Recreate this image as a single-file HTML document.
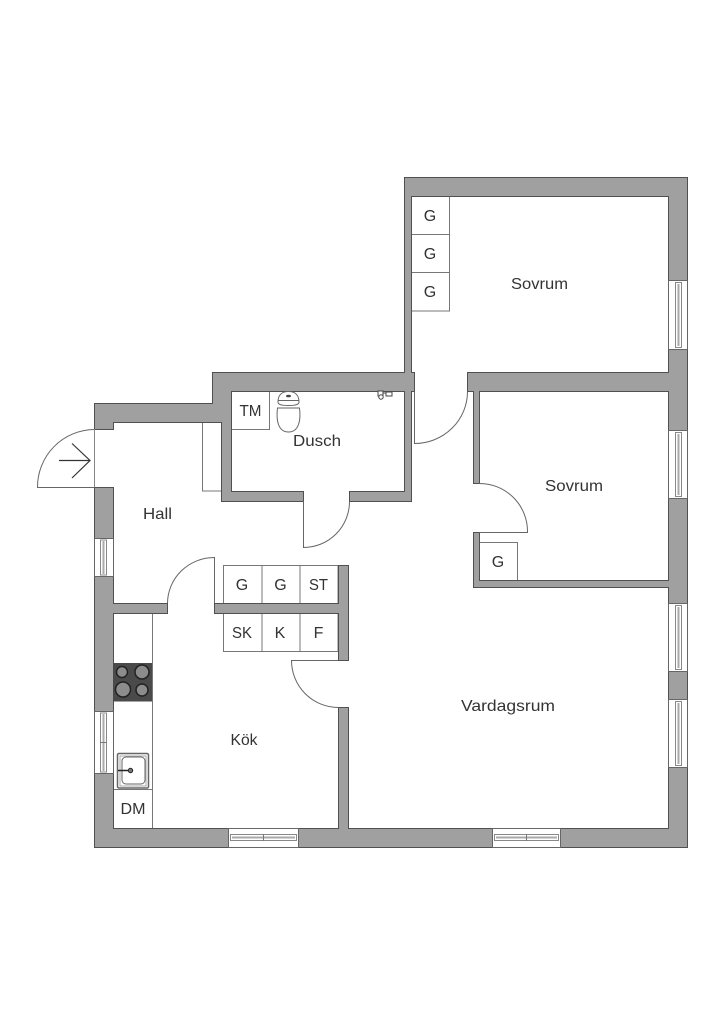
<!DOCTYPE html>
<html>
<head>
<meta charset="utf-8">
<style>
html,body{margin:0;padding:0;background:#fff;}
svg{display:block;}
text{font-family:"Liberation Sans",sans-serif;font-size:16px;fill:#333;text-anchor:middle;font-weight:normal;}
.w{fill:#a0a0a0;stroke:#505050;stroke-width:1;}
.c{fill:#fff;stroke:#777;stroke-width:1;}
.d{fill:none;stroke:#666;stroke-width:1;}
.win{fill:#fff;stroke:#666;stroke-width:1;}
.f{fill:#fff;stroke:#888;stroke-width:1;}
</style>
</head>
<body>
<svg width="724" height="1024" viewBox="0 0 724 1024" xmlns="http://www.w3.org/2000/svg">
<rect width="724" height="1024" fill="#fff"/>

<!-- hall closet and built-ins -->
<rect class="c" x="202.500" y="422.500" width="19" height="68.500"/>
<rect class="c" x="231.500" y="391.500" width="38" height="38"/>
<rect class="c" x="411.500" y="196.500" width="38" height="38"/>
<rect class="c" x="411.500" y="234.500" width="38" height="38"/>
<rect class="c" x="411.500" y="272.500" width="38" height="38.500"/>
<rect class="c" x="479.500" y="542.500" width="38" height="38"/>
<rect class="c" x="223.500" y="565.500" width="38.500" height="38"/>
<rect class="c" x="262" y="565.500" width="38" height="38"/>
<rect class="c" x="300" y="565.500" width="38" height="38"/>
<rect class="c" x="223.500" y="613.500" width="38.500" height="38"/>
<rect class="c" x="262" y="613.500" width="38" height="38"/>
<rect class="c" x="300" y="613.500" width="38" height="38"/>
<path class="c" d="M152.500 613V828" fill="none"/>
<path class="c" d="M113 789.500H152" fill="none"/>

<!-- walls -->
<path class="w" d="M94.500 487.500V847.500H687.500V177.500H404.500V372.500H212.500V403.500H94.500V429.500H113.500V422.500H221.500V501.500H303.500V491.500H231.500V391.500H404.500V491.500H349.500V501.500H411.500V391.500H414.500V372.500H411.500V196.500H668.500V372.500H467.500V391.500H473.500V483.500H479.500V391.500H668.500V580.500H479.500V532.500H473.500V587.500H668.500V828.500H348.500V707.500H338.500V828.500H113.500V613.500H167.500V603.500H113.500V487.500Z"/>
<path class="w" d="M214.500 603.500H338.500V565.500H348.500V660.500H338.500V613.500H214.500Z"/>

<!-- windows right -->
<g>
<rect class="win" x="668.500" y="280.500" width="19" height="69"/>
<rect class="f" x="675.500" y="282.500" width="6" height="65"/>
<rect x="677.500" y="284" width="2" height="62" fill="#aaa"/>
<rect class="win" x="668.500" y="430.500" width="19" height="68"/>
<rect class="f" x="675.500" y="432.500" width="6" height="64"/>
<rect x="677.500" y="434" width="2" height="61" fill="#aaa"/>
<rect class="win" x="668.500" y="603.500" width="19" height="68"/>
<rect class="f" x="675.500" y="605.500" width="6" height="64"/>
<rect x="677.500" y="607" width="2" height="61" fill="#aaa"/>
<rect class="win" x="668.500" y="699.500" width="19" height="68"/>
<rect class="f" x="675.500" y="701.500" width="6" height="64"/>
<rect x="677.500" y="703" width="2" height="61" fill="#aaa"/>
</g>
<!-- windows left -->
<rect class="win" x="94.500" y="538.500" width="19" height="38"/>
<rect class="f" x="100.500" y="540" width="6" height="35"/>
<rect x="102.500" y="541" width="2" height="33" fill="#aaa"/>
<rect class="win" x="94.500" y="711.500" width="19" height="62"/>
<rect class="f" x="100.500" y="713" width="6" height="59"/>
<rect x="102.500" y="714" width="2" height="57" fill="#aaa"/>
<path d="M100 742.500H107" stroke="#777"/>
<!-- windows bottom -->
<rect class="win" x="228.500" y="828.500" width="70" height="19"/>
<rect class="f" x="230.500" y="834.500" width="66" height="6"/>
<rect x="232" y="836.500" width="63" height="2" fill="#aaa"/>
<path d="M263.500 834V841" stroke="#777"/>
<rect class="win" x="492.500" y="828.500" width="68" height="19"/>
<rect class="f" x="494.500" y="834.500" width="64" height="6"/>
<rect x="496" y="836.500" width="61" height="2" fill="#aaa"/>
<path d="M526.500 834V841" stroke="#777"/>

<!-- doors -->
<path class="d" d="M94.500 429.500A57.500 57.500 0 0 0 37.500 487.500H94.500"/>
<path d="M94.500 429V487" stroke="#888" fill="none"/>
<path d="M59 460.500H90M72 443.500L90 460.500L72 478" fill="none" stroke="#333" stroke-width="1.200"/>
<path class="d" d="M303.500 501V547.500A46 46 0 0 0 349.500 501.500"/>
<path class="d" d="M214.500 603V557.500A47 46 0 0 0 167.500 603"/>
<path class="d" d="M338 660.500H291.500A47 47 0 0 0 338.500 707.500"/>
<path class="d" d="M414.500 391V443.500A53 52 0 0 0 467.500 391.500"/>
<path class="d" d="M479.500 483.500A48 48 0 0 1 527.500 532.500H479.500"/>

<!-- toilet -->
<path d="M277.500 408C276 420 278 432 288.500 432C299 432 301 420 299.500 408Z" fill="#fff" stroke="#666"/>
<path d="M278 402C278 395 282 391.500 288.500 391.500C295 391.500 299 395 299 402C299 404.500 296 405.500 288.500 405.500C281 405.500 278 404.500 278 402Z" fill="#fff" stroke="#666"/>
<path d="M278 400.500H299" stroke="#666"/>
<ellipse cx="288.500" cy="396" rx="2.500" ry="1.300" fill="#444"/>

<!-- shower mixer -->
<g fill="#fff" stroke="#444" stroke-width="1">
<rect x="378" y="391" width="5" height="5"/>
<circle cx="381" cy="397" r="2.200"/>
<rect x="386" y="392" width="6" height="4"/>
<path d="M383 393H386"/>
</g>

<!-- cooktop -->
<rect x="113" y="663" width="39" height="38.500" fill="#4a4a4a"/>
<g stroke="#222" stroke-width="1.500">
<circle cx="122" cy="672" r="5.500" fill="#8c8c8c"/>
<circle cx="142" cy="672" r="7" fill="#8c8c8c"/>
<circle cx="123" cy="689.500" r="7.500" fill="#8c8c8c"/>
<circle cx="142" cy="690" r="6" fill="#8c8c8c"/>
</g>
<!-- sink -->
<rect x="117.500" y="753.500" width="31" height="34.500" rx="1.500" fill="#fff" stroke="#666" stroke-width="1.500"/>
<rect x="120" y="756" width="26" height="30" fill="none" stroke="#aaa"/>
<rect x="122" y="757" width="23" height="27" rx="4" fill="#fff" stroke="#666"/>
<path d="M118 770.500H130" stroke="#222" stroke-width="1.500"/>
<circle cx="130.500" cy="770.500" r="2.200" fill="#777" stroke="#222"/>

<!-- labels -->
<text x="539.500" y="289" textLength="57" lengthAdjust="spacingAndGlyphs">Sovrum</text>
<text x="574" y="491" textLength="58" lengthAdjust="spacingAndGlyphs">Sovrum</text>
<text x="317" y="446" textLength="48" lengthAdjust="spacingAndGlyphs">Dusch</text>
<text x="157.500" y="519" textLength="29" lengthAdjust="spacingAndGlyphs">Hall</text>
<text x="244" y="745" textLength="27" lengthAdjust="spacingAndGlyphs">Kök</text>
<text x="508" y="711" textLength="94" lengthAdjust="spacingAndGlyphs">Vardagsrum</text>
<text x="430" y="221">G</text>
<text x="430" y="259">G</text>
<text x="430" y="297">G</text>
<text x="498" y="567">G</text>
<text x="250.500" y="416" textLength="22" lengthAdjust="spacingAndGlyphs">TM</text>
<text x="242" y="590">G</text>
<text x="280.500" y="590">G</text>
<text x="318.500" y="590" textLength="19" lengthAdjust="spacingAndGlyphs">ST</text>
<text x="242" y="638" textLength="20" lengthAdjust="spacingAndGlyphs">SK</text>
<text x="280" y="638">K</text>
<text x="318.500" y="638">F</text>
<text x="133" y="814" textLength="25" lengthAdjust="spacingAndGlyphs">DM</text>
</svg>
</body>
</html>
